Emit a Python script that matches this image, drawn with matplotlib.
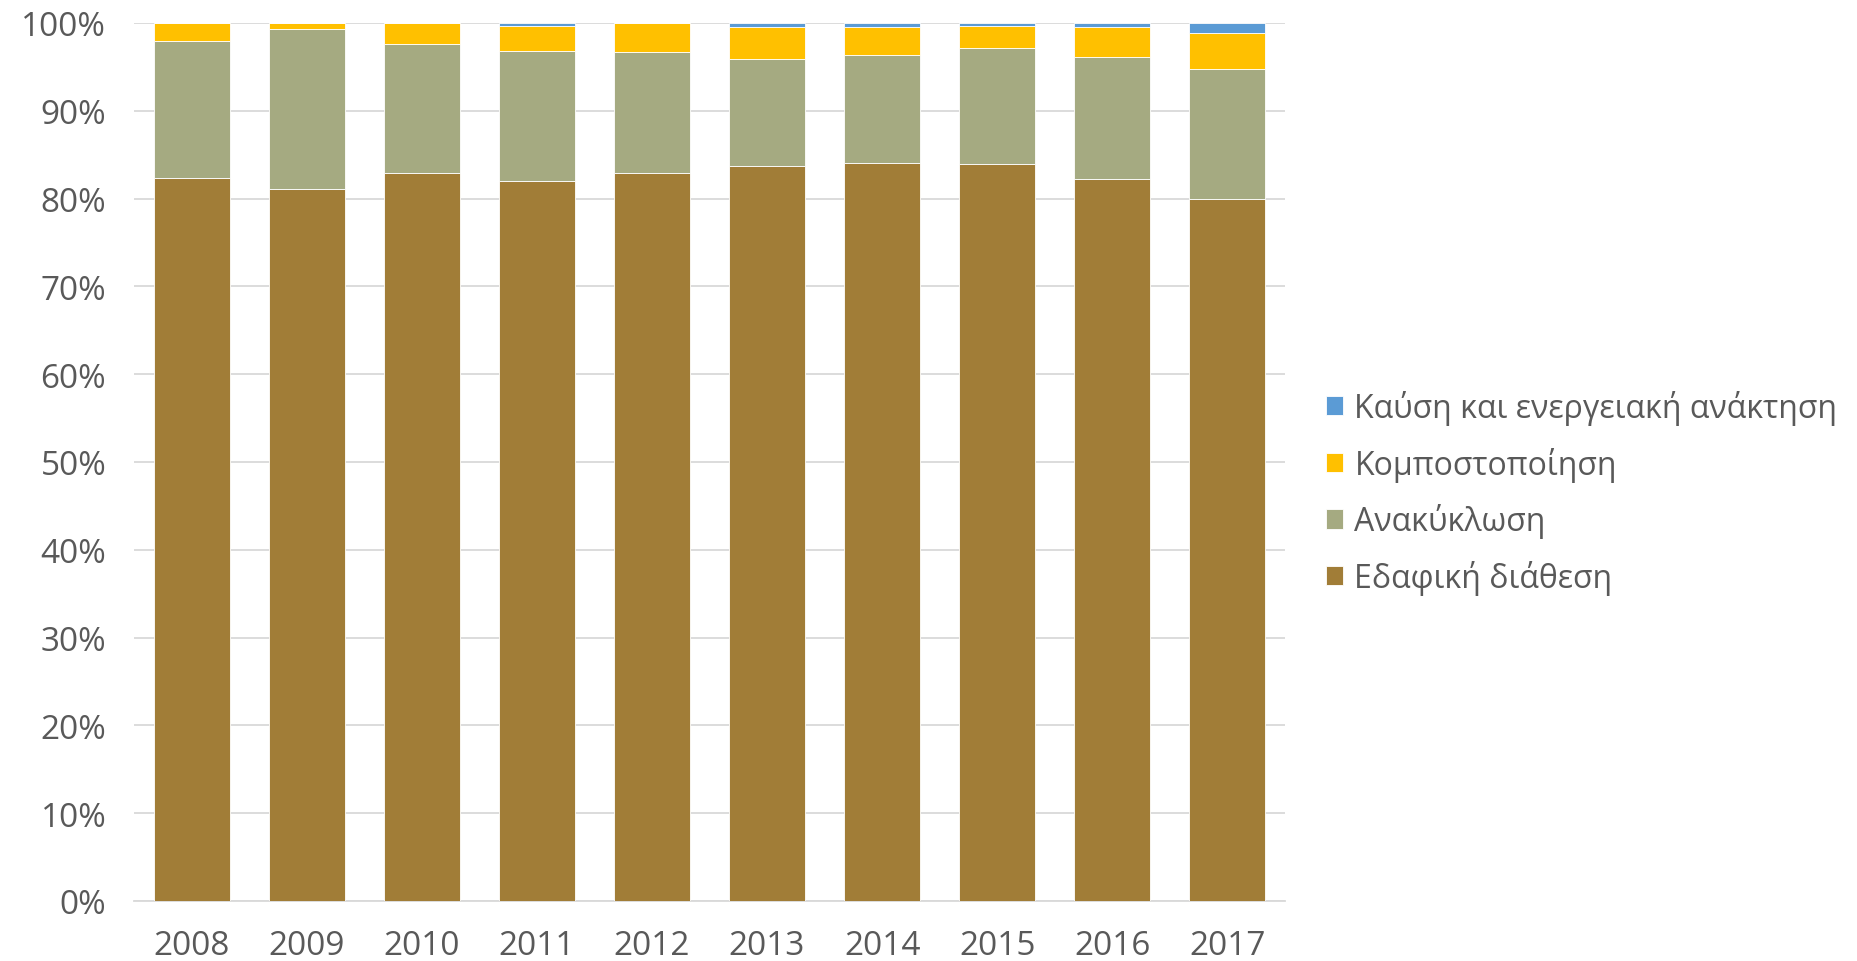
import matplotlib
matplotlib.use("Agg")
import matplotlib.pyplot as plt
import numpy as np

years = ["2008", "2009", "2010", "2011", "2012", "2013", "2014", "2015", "2016", "2017"]
# shares (%) per year
landfill = [82.3, 81.1, 82.9, 82.0, 82.9, 83.7, 84.1, 83.9, 82.2, 80.0]
recycling = [15.7, 18.2, 14.7, 14.8, 13.8, 12.2, 12.2, 13.2, 13.9, 14.8]
compost = [2.0, 0.7, 2.4, 2.9, 3.3, 3.6, 3.2, 2.6, 3.4, 4.1]
incineration = [0.0, 0.0, 0.0, 0.3, 0.0, 0.5, 0.5, 0.3, 0.5, 1.1]

series = [
    ("Εδαφική διάθεση", landfill, "#A17D37"),
    ("Ανακύκλωση", recycling, "#A5AA81"),
    ("Κομποστοποίηση", compost, "#FFC000"),
    ("Καύση και ενεργειακή ανάκτηση", incineration, "#5B9BD5"),
]

plt.rcParams["font.family"] = ["Open Sans", "DejaVu Sans"]
TXT = "#595959"

fig = plt.figure(figsize=(18.58, 9.62), dpi=100)
ax = fig.add_axes([134 / 1858, 60 / 962, (1285 - 134) / 1858, (902 - 24) / 962])

x = np.arange(len(years))
bottom = np.zeros(len(years))
handles = []
for name, vals, col in series:
    v = np.array(vals)
    b = ax.bar(x, v, 0.66, bottom=bottom, color=col, edgecolor="white", linewidth=0.6,
               label=name, zorder=3)
    handles.append(b)
    bottom += v

ax.set_ylim(0, 100)
ax.set_xlim(-0.5, len(years) - 0.5)
ax.set_yticks(np.arange(0, 101, 10))
ax.set_yticklabels([f"{t}%" for t in range(0, 101, 10)])
ax.set_xticks(x)
ax.set_xticklabels(years)
ax.grid(axis="y", color="#D9D9D9", lw=1.3, zorder=0)
for s in ["top", "right", "left"]:
    ax.spines[s].set_visible(False)
ax.spines["bottom"].set_color("#D9D9D9")
ax.spines["bottom"].set_linewidth(1.3)
ax.tick_params(length=0, labelsize=24, colors=TXT)
ax.tick_params(axis="x", pad=20)
ax.tick_params(axis="y", pad=20)

leg = fig.legend(handles[::-1], [s[0] for s in series][::-1], loc="center left",
                 bbox_to_anchor=(1297 / 1858, 0.487), frameon=False, fontsize=23,
                 handlelength=0.55, handleheight=0.55, handletextpad=0.35, labelspacing=0.68)
for t in leg.get_texts():
    t.set_color(TXT)

fig.savefig("out.png", dpi=100)
